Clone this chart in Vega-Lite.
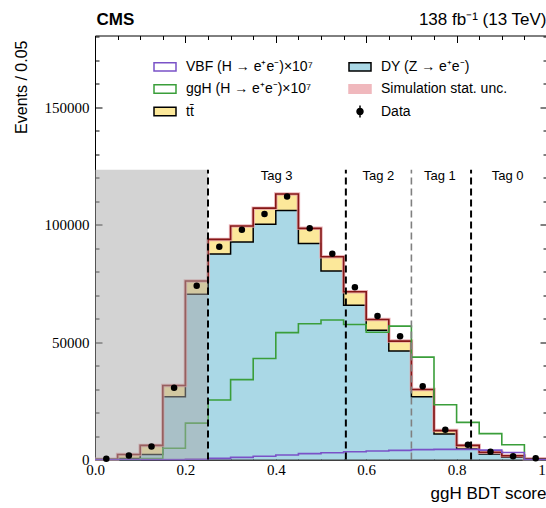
{
  "$schema": "https://vega.github.io/schema/vega-lite/v6.json",
  "width": 452,
  "height": 424,
  "autosize": {"type": "none"},
  "padding": {"left": 95, "top": 35.5, "right": 0, "bottom": 48.5},
  "background": "white",
  "config": {
    "view": {"stroke": "black", "strokeWidth": 1},
    "axis": {
      "grid": false,
      "domainColor": "black",
      "tickColor": "black",
      "labelColor": "black",
      "titleColor": "black",
      "labelFont": "Liberation Serif",
      "labelFontSize": 15,
      "titleFont": "Liberation Sans",
      "titleFontSize": 16,
      "titleFontWeight": "normal"
    },
    "legend": {"symbolFillColor": "white", "symbolOpacity": 1}
  },
  "datasets": {
    "hist": [
      {"lo": 0.00, "c": 0.025, "dy": 50, "tot": 150, "ggh": 0, "vbf": 0, "data": 300},
      {"lo": 0.05, "c": 0.075, "dy": 400, "tot": 2100, "ggh": 0, "vbf": 0, "data": 1700},
      {"lo": 0.10, "c": 0.125, "dy": 2100, "tot": 6000, "ggh": 400, "vbf": 0, "data": 5500},
      {"lo": 0.15, "c": 0.175, "dy": 26700, "tot": 31500, "ggh": 4800, "vbf": 0, "data": 30500},
      {"lo": 0.20, "c": 0.225, "dy": 70400, "tot": 76000, "ggh": 15500, "vbf": 150, "data": 74000},
      {"lo": 0.25, "c": 0.275, "dy": 87500, "tot": 93700, "ggh": 25300, "vbf": 500, "data": 90600},
      {"lo": 0.30, "c": 0.325, "dy": 92600, "tot": 99400, "ggh": 34000, "vbf": 900, "data": 97800},
      {"lo": 0.35, "c": 0.375, "dy": 100100, "tot": 107000, "ggh": 43000, "vbf": 1400, "data": 104500},
      {"lo": 0.40, "c": 0.425, "dy": 106000, "tot": 113000, "ggh": 54000, "vbf": 1900, "data": 112000},
      {"lo": 0.45, "c": 0.475, "dy": 91900, "tot": 98400, "ggh": 57800, "vbf": 2500, "data": 98400},
      {"lo": 0.50, "c": 0.525, "dy": 80200, "tot": 86300, "ggh": 59400, "vbf": 2900, "data": 87600},
      {"lo": 0.55, "c": 0.575, "dy": 65700, "tot": 71400, "ggh": 57500, "vbf": 3300, "data": 73300},
      {"lo": 0.60, "c": 0.625, "dy": 55000, "tot": 59600, "ggh": 54200, "vbf": 3600, "data": 61100},
      {"lo": 0.65, "c": 0.675, "dy": 46200, "tot": 50400, "ggh": 56800, "vbf": 3900, "data": 52500},
      {"lo": 0.70, "c": 0.725, "dy": 26700, "tot": 29800, "ggh": 43600, "vbf": 4200, "data": 31200},
      {"lo": 0.75, "c": 0.775, "dy": 10900, "tot": 12300, "ggh": 23300, "vbf": 4300, "data": 12700},
      {"lo": 0.80, "c": 0.825, "dy": 4500, "tot": 6000, "ggh": 15800, "vbf": 4300, "data": 6300},
      {"lo": 0.85, "c": 0.875, "dy": 2300, "tot": 3100, "ggh": 11000, "vbf": 4000, "data": 3300},
      {"lo": 0.90, "c": 0.925, "dy": 1000, "tot": 1600, "ggh": 6300, "vbf": 3000, "data": 1400},
      {"lo": 0.95, "c": 0.975, "dy": 100, "tot": 300, "ggh": 0, "vbf": 0, "data": 500},
      {"lo": 1.00, "dy": 100, "tot": 300, "ggh": 0, "vbf": 0}
    ],
    "region": [{"x0": 0, "x1": 0.25, "bottom": 0, "top": 123300}],
    "cuts": [
      {"cut": 0.25, "bottom": 0, "top": 123300},
      {"cut": 0.555, "bottom": 0, "top": 123300},
      {"cut": 0.70, "bottom": 0, "top": 123300},
      {"cut": 0.832, "bottom": 0, "top": 123300}
    ],
    "tags": [
      {"tag": "Tag 3", "x": 0.402, "top": 123300},
      {"tag": "Tag 2", "x": 0.627, "top": 123300},
      {"tag": "Tag 1", "x": 0.763, "top": 123300},
      {"tag": "Tag 0", "x": 0.913, "top": 123300}
    ],
    "legend": [
      {"name": "VBF (H → e⁺e⁻)×10⁷"},
      {"name": "ggH (H → e⁺e⁻)×10⁷"},
      {"name": "tt̄"},
      {"name": "DY (Z → e⁺e⁻)"},
      {"name": "Simulation stat. unc."},
      {"name": "Data"}
    ]
  },
  "resolve": {"axis": {"x": "independent", "y": "independent"}},
  "layer": [
    {
      "data": {"name": "hist"},
      "mark": {"type": "area", "interpolate": "step-after", "color": "#aad8e6"},
      "encoding": {
        "x": {
          "field": "lo", "type": "quantitative",
          "scale": {"domain": [0, 1], "nice": false, "zero": false},
          "axis": {
            "orient": "bottom", "values": [0, 0.2, 0.4, 0.6, 0.8, 1.0], "format": ".1f",
            "tickSize": -7, "labelPadding": 10, "labelFlush": false,
            "title": "ggH BDT score", "titleAnchor": "end", "titleAlign": "right",
            "titleX": 451, "titleY": 38.5, "titleBaseline": "alphabetic", "titleFontSize": 17
          }
        },
        "y": {
          "field": "dy", "type": "quantitative",
          "scale": {"domain": [0, 180500], "nice": false},
          "axis": {
            "orient": "left", "values": [0, 50000, 100000, 150000], "format": "d",
            "tickSize": -7, "labelPadding": 13, "labelFlush": false,
            "title": "Events / 0.05", "titleAngle": 270, "titleAlign": "right",
            "titleBaseline": "top", "titleX": -82, "titleY": 4.5, "titleFontSize": 16
          }
        }
      }
    },
    {
      "data": {"name": "hist"},
      "mark": {"type": "area", "interpolate": "step-after", "color": "#fce89a"},
      "encoding": {
        "x": {
          "field": "lo", "type": "quantitative",
          "axis": {
            "orient": "bottom",
            "values": [0.05, 0.1, 0.15, 0.25, 0.3, 0.35, 0.45, 0.5, 0.55, 0.65, 0.7, 0.75, 0.85, 0.9, 0.95],
            "tickSize": -4, "labels": false, "domain": false, "title": null
          }
        },
        "y": {
          "field": "tot", "type": "quantitative",
          "axis": {
            "orient": "left",
            "values": [10000, 20000, 30000, 40000, 60000, 70000, 80000, 90000, 110000, 120000, 130000, 140000, 160000, 170000, 180000],
            "tickSize": -4, "labels": false, "domain": false, "title": null
          }
        },
        "y2": {"field": "dy"}
      }
    },
    {
      "data": {"name": "hist"},
      "mark": {"type": "line", "interpolate": "step-after", "color": "black", "strokeWidth": 1.5},
      "encoding": {
        "x": {
          "field": "lo", "type": "quantitative",
          "axis": {
            "orient": "top", "values": [0, 0.2, 0.4, 0.6, 0.8, 1.0], "tickSize": -7,
            "labels": false, "domain": false,
            "title": "138 fb⁻¹ (13 TeV)", "titleAnchor": "end", "titleAlign": "right",
            "titleX": 451, "titleY": -11.5, "titleBaseline": "alphabetic", "titleFontSize": 17
          }
        },
        "y": {
          "field": "dy", "type": "quantitative",
          "axis": {
            "orient": "right", "values": [0, 50000, 100000, 150000], "tickSize": -7,
            "labels": false, "domain": false, "title": null
          }
        }
      }
    },
    {
      "data": {"name": "hist"},
      "mark": {"type": "line", "interpolate": "step-after", "color": "#e6a3a9", "strokeWidth": 3.5, "opacity": 0.8},
      "encoding": {
        "x": {
          "field": "lo", "type": "quantitative",
          "axis": {
            "orient": "top",
            "values": [0.05, 0.1, 0.15, 0.25, 0.3, 0.35, 0.45, 0.5, 0.55, 0.65, 0.7, 0.75, 0.85, 0.9, 0.95],
            "tickSize": -4, "labels": false, "domain": false,
            "title": "CMS", "titleAnchor": "start", "titleAlign": "left",
            "titleX": 1, "titleY": -11.5, "titleBaseline": "alphabetic",
            "titleFontSize": 17, "titleFontWeight": "bold"
          }
        },
        "y": {
          "field": "tot", "type": "quantitative",
          "axis": {
            "orient": "right",
            "values": [10000, 20000, 30000, 40000, 60000, 70000, 80000, 90000, 110000, 120000, 130000, 140000, 160000, 170000, 180000],
            "tickSize": -4, "labels": false, "domain": false, "title": null
          }
        }
      }
    },
    {
      "data": {"name": "hist"},
      "mark": {"type": "line", "interpolate": "step-after", "color": "#861717", "strokeWidth": 1.6},
      "encoding": {
        "x": {"field": "lo", "type": "quantitative", "axis": null},
        "y": {"field": "tot", "type": "quantitative", "axis": null}
      }
    },
    {
      "data": {"name": "hist"},
      "mark": {"type": "line", "interpolate": "step-after", "color": "#3a9e3a", "strokeWidth": 1.6},
      "encoding": {
        "x": {"field": "lo", "type": "quantitative", "axis": null},
        "y": {"field": "ggh", "type": "quantitative", "axis": null}
      }
    },
    {
      "data": {"name": "hist"},
      "mark": {"type": "line", "interpolate": "step-after", "color": "#7a52c7", "strokeWidth": 1.6},
      "encoding": {
        "x": {"field": "lo", "type": "quantitative", "axis": null},
        "y": {"field": "vbf", "type": "quantitative", "axis": null}
      }
    },
    {
      "data": {"name": "region"},
      "mark": {"type": "rect", "color": "#a7a7a7", "opacity": 0.5},
      "encoding": {
        "x": {"field": "x0", "type": "quantitative", "axis": null},
        "x2": {"field": "x1"},
        "y": {"field": "bottom", "type": "quantitative", "axis": null},
        "y2": {"field": "top"}
      }
    },
    {
      "data": {"name": "cuts"},
      "transform": [{"filter": "datum.cut != 0.7"}],
      "mark": {"type": "rule", "color": "black", "strokeWidth": 2, "strokeDash": [7, 4]},
      "encoding": {
        "x": {"field": "cut", "type": "quantitative", "axis": null},
        "y": {"field": "bottom", "type": "quantitative", "axis": null},
        "y2": {"field": "top"}
      }
    },
    {
      "data": {"name": "cuts"},
      "transform": [{"filter": "datum.cut == 0.7"}],
      "mark": {"type": "rule", "color": "#808080", "strokeWidth": 1.6, "strokeDash": [7, 4]},
      "encoding": {
        "x": {"field": "cut", "type": "quantitative", "axis": null},
        "y": {"field": "bottom", "type": "quantitative", "axis": null},
        "y2": {"field": "top"}
      }
    },
    {
      "data": {"name": "tags"},
      "mark": {"type": "text", "font": "Liberation Sans", "fontSize": 13, "baseline": "top", "align": "center", "color": "black"},
      "encoding": {
        "x": {"field": "x", "type": "quantitative", "axis": null},
        "y": {"field": "top", "type": "quantitative", "axis": null},
        "text": {"field": "tag", "type": "nominal"}
      }
    },
    {
      "data": {"name": "hist"},
      "transform": [{"filter": "isValid(datum.data)"}],
      "mark": {"type": "point", "filled": true, "color": "black", "size": 42, "opacity": 1},
      "encoding": {
        "x": {"field": "c", "type": "quantitative", "axis": null},
        "y": {"field": "data", "type": "quantitative", "axis": null}
      }
    },
    {
      "data": {"name": "legend"},
      "mark": {"type": "point", "filled": true, "opacity": 0, "strokeWidth": 1.5},
      "encoding": {
        "fill": {
          "field": "name", "type": "nominal",
          "scale": {
            "domain": ["VBF (H → e⁺e⁻)×10⁷", "ggH (H → e⁺e⁻)×10⁷", "tt̄", "DY (Z → e⁺e⁻)", "Simulation stat. unc.", "Data"],
            "range": ["white", "white", "#fce89a", "#aad8e6", "#f0b8bd", "black"]
          },
          "legend": {
            "title": null, "orient": "none", "legendX": 58, "legendY": 19,
            "columns": 2, "columnPadding": 33, "rowPadding": 2.5,
            "symbolSize": 484, "symbolStrokeWidth": 1.5,
            "labelFont": "Liberation Sans", "labelFontSize": 14, "labelColor": "black",
            "labelOffset": 9, "labelLimit": 300
          }
        },
        "stroke": {
          "field": "name", "type": "nominal",
          "scale": {
            "domain": ["VBF (H → e⁺e⁻)×10⁷", "ggH (H → e⁺e⁻)×10⁷", "tt̄", "DY (Z → e⁺e⁻)", "Simulation stat. unc.", "Data"],
            "range": ["#7a52c7", "#3a9e3a", "black", "black", "#f0b8bd", "black"]
          },
          "legend": {"title": null}
        },
        "shape": {
          "field": "name", "type": "nominal",
          "scale": {
            "domain": ["VBF (H → e⁺e⁻)×10⁷", "ggH (H → e⁺e⁻)×10⁷", "tt̄", "DY (Z → e⁺e⁻)", "Simulation stat. unc.", "Data"],
            "range": [
              "M-1,-0.38H1V0.38H-1Z",
              "M-1,-0.38H1V0.38H-1Z",
              "M-1,-0.38H1V0.38H-1Z",
              "M-1,-0.38H1V0.38H-1Z",
              "M-1,-0.38H1V0.38H-1Z",
              "M0,-0.55V0.55M0.27,0A0.27,0.27,0,1,1,-0.27,0A0.27,0.27,0,1,1,0.27,0Z"
            ]
          },
          "legend": {"title": null}
        }
      }
    }
  ]
}
